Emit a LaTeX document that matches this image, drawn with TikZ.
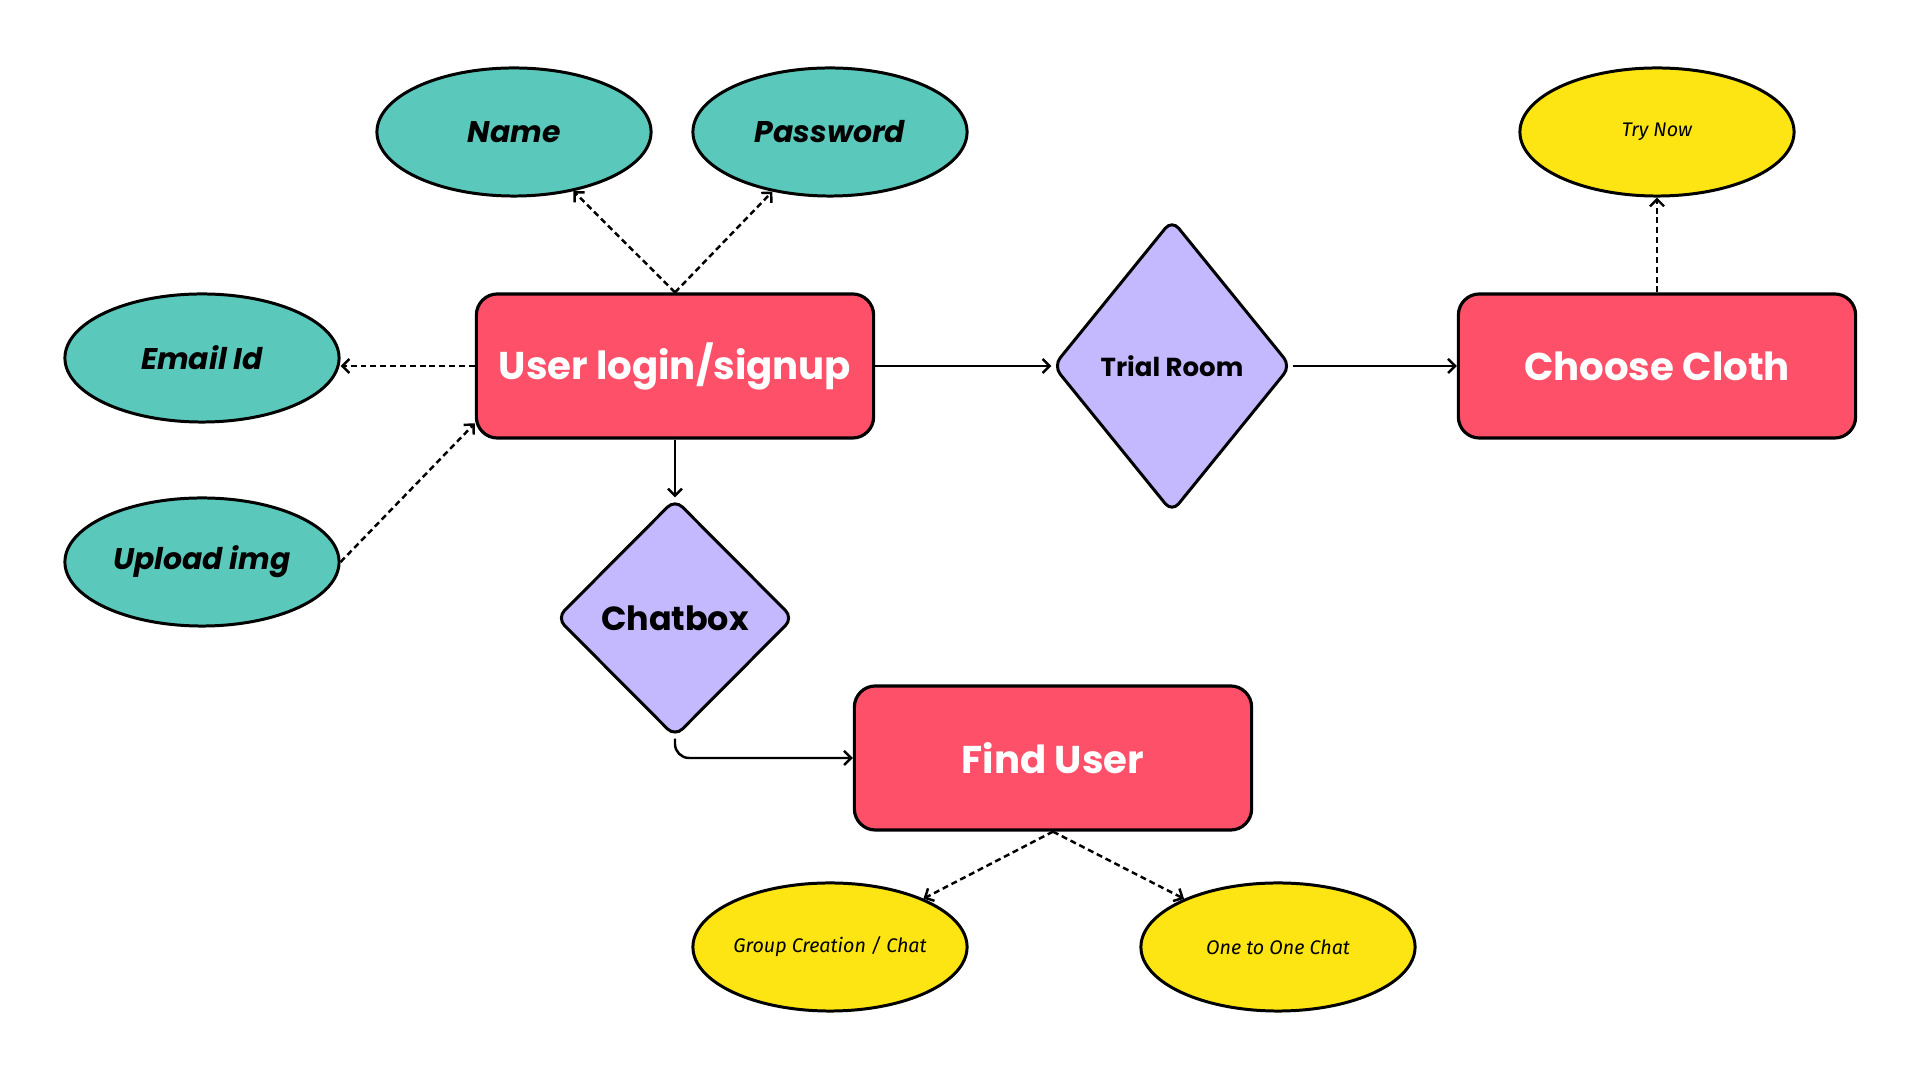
\documentclass[tikz,border=0pt]{standalone}
\usepackage{fontspec}
\setmainfont{Poppins}
\newfontfamily\notefont{Fira Sans}
\usetikzlibrary{shapes.geometric,arrows.meta}
\definecolor{tealfill}{HTML}{5BC8BC}
\definecolor{redfill}{HTML}{FF5069}
\definecolor{lilacfill}{HTML}{C4B8FF}
\definecolor{yellowfill}{HTML}{FDE513}
\tikzset{
  rectbox/.style={draw, line width=0.9pt, rounded corners=6pt, fill=redfill,
    minimum width=3.97cm, minimum height=1.44cm, text=white,
    font=\bfseries\fontsize{11}{13}\selectfont},
  tealoval/.style={ellipse, draw, line width=0.85pt, fill=tealfill,
    minimum width=2.74cm, minimum height=1.28cm, inner sep=0pt,
    font=\bfseries\itshape\fontsize{8.5}{10}\selectfont},
  yellowoval/.style={ellipse, draw, line width=0.85pt, fill=yellowfill,
    minimum width=2.74cm, minimum height=1.28cm, inner sep=0pt,
    font=\notefont\itshape\fontsize{5.6}{7}\selectfont},
  choicebox/.style={diamond, draw, line width=0.85pt, fill=lilacfill,
    rounded corners=3pt, inner sep=0pt},
  link/.style={line width=0.7pt, -{Straight Barb[length=2pt,width=4pt]}},
  dashlink/.style={link, dash pattern=on 1.7pt off 1.1pt}
}
\begin{document}
\begin{tikzpicture}[x=0.01cm, y=-0.01cm]
  \useasboundingbox (0,0) rectangle (1920,1080);
  % boxes
  \node[rectbox] (login) at (675,366) {User login/signup};
  \node[rectbox] (cloth) at (1657,366) {Choose Cloth};
  \node[rectbox] (find) at (1053,758) {Find User};
  % diamonds
  \node[choicebox, minimum width=2.38cm, minimum height=2.93cm,
    font=\bfseries\fontsize{7.4}{9}\selectfont] (trial) at (1172,366) {Trial Room};
  \node[choicebox, minimum width=2.37cm, minimum height=2.38cm,
    font=\bfseries\fontsize{9.5}{11}\selectfont] (chat) at (675,618) {Chatbox};
  % ovals
  \node[tealoval] (name) at (514,132) {Name};
  \node[tealoval] (pass) at (830,132) {Password};
  \node[tealoval] (email) at (202,358) {Email Id};
  \node[tealoval] (upload) at (202,562) {Upload img};
  \node[yellowoval] (trynow) at (1657,132) {Try Now};
  \node[yellowoval] (group) at (830,947) {Group Creation / Chat};
  \node[yellowoval] (onechat) at (1278,947) {One to One Chat};
  % connectors
  \begin{scope}[link]
    \draw (login.east) to (trial.west);
    \draw (trial.east) to (cloth.west);
    \draw (login.south) to (chat.north);
    \draw[rounded corners=4pt] (chat.south) |- (find.west);
  \end{scope}
  \begin{scope}[dashlink]
    \draw (login.north) to (name);
    \draw (login.north) to (pass);
    \draw (login.west) to (login.west -| email.east);
    \draw (upload.east) to (login.196);
    \draw (cloth.north) to (trynow.south);
    \draw (find.south) to (group);
    \draw (find.south) to (onechat);
  \end{scope}
\end{tikzpicture}
\end{document}
